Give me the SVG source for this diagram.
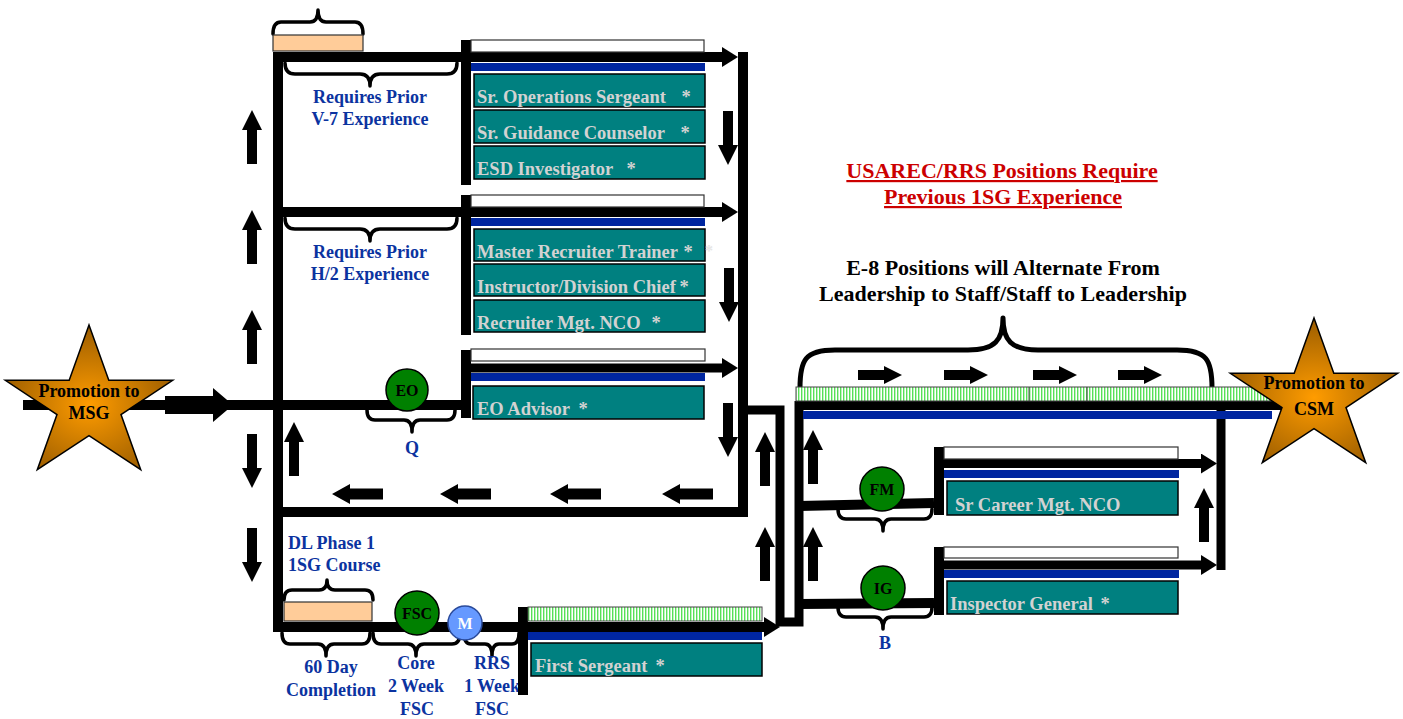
<svg xmlns="http://www.w3.org/2000/svg" width="1403" height="719" viewBox="0 0 1403 719">
<defs>
 <radialGradient id="gold" cx="50%" cy="55%" r="55%">
  <stop offset="0" stop-color="#ff9c00"/>
  <stop offset="1" stop-color="#9a5c00"/>
 </radialGradient>
 <pattern id="stripes" width="3" height="20" patternUnits="userSpaceOnUse">
  <rect width="3" height="20" fill="#ffffff"/>
  <rect width="1.4" height="20" fill="#57e057"/>
 </pattern>
 <marker id="ah" viewBox="0 -10 16 20" refX="0" refY="0" markerWidth="16" markerHeight="20" markerUnits="userSpaceOnUse" orient="auto">
  <path d="M0,-10 L16,0 L0,10 Z" fill="#000"/>
 </marker>
 <path id="au" d="M0,0 L10,20 L5,20 L5,54 L-5,54 L-5,20 L-10,20 Z"/>
 <path id="ad" d="M0,0 L10,-20 L5,-20 L5,-54 L-5,-54 L-5,-20 L-10,-20 Z"/>
 <path id="al" d="M0,0 L18,-10 L18,-5.5 L51,-5.5 L51,5.5 L18,5.5 L18,10 Z"/>
 <path id="ar" d="M0,0 L-18,-9 L-18,-5 L-44,-5 L-44,5 L-18,5 L-18,9 Z"/>
</defs>
<style>
 .ln{fill:none;stroke:#000;stroke-width:10;stroke-linejoin:miter}
 .ln9{fill:none;stroke:#000;stroke-width:9;stroke-linejoin:miter}
 .brace{fill:none;stroke:#000;stroke-width:3.5;stroke-linejoin:round;stroke-linecap:round}
 .bar{fill:#000}
 .white{fill:#fff;stroke:#333;stroke-width:1.2}
 .blue{fill:#0026a0}
 .teal{fill:#008080;stroke:#000;stroke-width:1.5}
 .stripe{fill:url(#stripes);stroke:#444;stroke-width:1}
 .peach{fill:#ffcc99;stroke:#333;stroke-width:1.2}
 .tt{font-family:"Liberation Serif","Times New Roman",serif;font-weight:bold;font-size:18.5px;fill:#d2d2d2}
 .ast{font-family:"Liberation Serif","Times New Roman",serif;font-weight:bold;font-size:18.5px;fill:#d2d2d2;text-anchor:middle}
 .lbl{font-family:"Liberation Serif","Times New Roman",serif;font-weight:bold;font-size:18px;fill:#0b33a0;text-anchor:middle}
 .circ{fill:#008000;stroke:#000;stroke-width:1.5}
 .ct{font-family:"Liberation Serif","Times New Roman",serif;font-weight:bold;font-size:16px;fill:#000;text-anchor:middle}
 .star{fill:url(#gold);stroke:#000;stroke-width:1.5}
 .st{font-family:"Liberation Serif","Times New Roman",serif;font-weight:bold;font-size:18px;fill:#000;text-anchor:middle}
 .title{font-family:"Liberation Serif","Times New Roman",serif;font-weight:bold;font-size:22px;text-anchor:middle}
</style>

<g id="connectors">
 <path class="ln" d="M23,405 H461"/>
 <polygon points="165,396 213,396 213,388 233,405 213,422 213,414 165,414"/>
 <path class="ln" d="M518,627 H278 V57 H722" marker-end="url(#ah)"/>
 <path class="ln" d="M278,212 H722" marker-end="url(#ah)"/>
 <path class="ln9" d="M471,368 H722" marker-end="url(#ah)"/>
 <path class="ln" d="M743,52 V512 H278"/>
 <path class="ln9" d="M743,410 H780 V622 H799 V401"/>
 <path class="ln9" d="M795,405.5 H1282"/>
 <path class="ln9" d="M1221,405 V570"/>
 <path class="ln9" d="M944,463.5 H1201" marker-end="url(#ah)"/>
 <path class="ln9" d="M944,565 H1201" marker-end="url(#ah)"/>
 <path class="ln" d="M799,506 L934,503"/>
 <path class="ln" d="M799,604 L934,603"/>
 <path class="ln" d="M528,627 H764" marker-end="url(#ah)"/>
 <use href="#au" x="252" y="110"/>
 <use href="#au" x="252" y="210"/>
 <use href="#au" x="252" y="310"/>
 <use href="#ad" x="252" y="488"/>
 <use href="#ad" x="252" y="582"/>
 <use href="#au" x="294" y="422"/>
 <use href="#ad" x="728" y="165"/>
 <use href="#ad" x="729" y="322"/>
 <use href="#ad" x="728" y="457"/>
 <use href="#al" x="332" y="494"/>
 <use href="#al" x="440" y="494"/>
 <use href="#al" x="550" y="494"/>
 <use href="#al" x="662" y="494"/>
 <use href="#au" x="765" y="432"/>
 <use href="#au" x="765" y="527"/>
 <use href="#au" x="813" y="430"/>
 <use href="#au" x="813" y="527"/>
 <use href="#au" x="1204" y="488"/>
 <use href="#ar" x="902" y="375"/>
 <use href="#ar" x="988" y="375"/>
 <use href="#ar" x="1077" y="375"/>
 <use href="#ar" x="1162" y="375"/>
</g>

<g id="star-msg">
 <polygon class="star" points="89,325 108.8,380.2 172.7,380.3 121,414.5 140.7,469.7 89,435.6 37.3,469.7 57,414.5 5.3,380.3 69.2,380.2"/>
 <text class="st" x="89" y="397">Promotion to</text>
 <text class="st" x="89" y="419">MSG</text>
</g>

<g id="braces">
 <path class="brace" d="M273,34 Q273,22 281,22 L310,22 Q318,22 318,10 Q318,22 326,22 L355,22 Q363,22 363,34"/>
 <path class="brace" d="M285,63 Q285,74 295,74 L360,74 Q370,74 370,86 Q370,74 380,74 L447,74 Q457,74 457,63"/>
 <path class="brace" d="M285,218 Q285,229 295,229 L360,229 Q370,229 370,241 Q370,229 380,229 L447,229 Q457,229 457,218"/>
 <path class="brace" d="M367,410 Q367,420 375,420 L404,420 Q412,420 412,432 Q412,420 420,420 L447,420 Q455,420 455,410"/>
 <path class="brace" d="M284,600 Q284,590 292,590 L319,590 Q327,590 327,580 Q327,590 335,590 L365,590 Q373,590 373,600"/>
 <path class="brace" d="M282,633 Q282,644 290,644 L318,644 Q326,644 326,656 Q326,644 334,644 L362,644 Q370,644 370,633"/>
 <path class="brace" d="M373,633 Q373,644 381,644 L408,644 Q416,644 416,656 Q416,644 424,644 L452,644 Q460,644 460,633"/>
 <path class="brace" d="M464,633 Q464,644 471,644 L485,644 Q492,644 492,656 Q492,644 499,644 L512,644 Q519,644 519,633"/>
 <path class="brace" d="M838,509 Q838,519 846,519 L875,519 Q883,519 883,531 Q883,519 891,519 L924,519 Q932,519 932,509"/>
 <path class="brace" d="M838,607 Q838,617 846,617 L875,617 Q883,617 883,629 Q883,617 891,617 L924,617 Q932,617 932,607"/>
 <path class="brace" style="stroke-width:5" d="M800,388 C800,360 805,350 835,350 L968,350 C995,350 1003,340 1003,318 C1003,340 1011,350 1038,350 L1177,350 C1207,350 1212,360 1212,388"/>
</g>

<g id="v7-requirement">
 <rect class="peach" x="273" y="35" width="90" height="16"/>
 <text class="lbl" x="370" y="103">Requires Prior</text>
 <text class="lbl" x="370" y="125">V-7 Experience</text>
</g>
<g id="h2-requirement">
 <text class="lbl" x="370" y="258">Requires Prior</text>
 <text class="lbl" x="370" y="280">H/2 Experience</text>
</g>

<g id="stack-v7">
 <rect class="bar" x="461" y="40" width="10" height="145"/>
 <rect class="white" x="471" y="40" width="233" height="12"/>
 <rect class="blue" x="471" y="63" width="234" height="8"/>
 <rect class="teal" x="474" y="74" width="231" height="33"/>
 <text class="tt" x="477" y="103">Sr. Operations Sergeant</text><text class="ast" x="686" y="103">*</text>
 <rect class="teal" x="474" y="110" width="231" height="33"/>
 <text class="tt" x="477" y="139">Sr. Guidance Counselor</text><text class="ast" x="685" y="139">*</text>
 <rect class="teal" x="474" y="146" width="231" height="33"/>
 <text class="tt" x="477" y="175">ESD Investigator</text><text class="ast" x="631" y="175">*</text>
</g>

<g id="stack-h2">
 <rect class="bar" x="461" y="195" width="10" height="140"/>
 <rect class="white" x="471" y="195" width="233" height="12"/>
 <rect class="blue" x="471" y="218" width="234" height="8"/>
 <rect class="teal" x="474" y="229" width="231" height="32"/>
 <text class="tt" x="477" y="258">Master Recruiter Trainer</text><text class="ast" x="688" y="258">*</text>
 <text class="ast" x="709" y="256" style="fill:#e6e6e6;font-size:16px">*</text>
 <rect class="teal" x="474" y="264" width="231" height="32"/>
 <text class="tt" x="477" y="293">Instructor/Division Chief</text><text class="ast" x="684" y="293">*</text>
 <rect class="teal" x="474" y="300" width="231" height="32"/>
 <text class="tt" x="477" y="329">Recruiter Mgt. NCO</text><text class="ast" x="656" y="329">*</text>
</g>

<g id="stack-eo">
 <rect class="bar" x="461" y="350" width="10" height="68"/>
 <rect class="white" x="471" y="349" width="234" height="12"/>
 <rect class="blue" x="471" y="373" width="234" height="8"/>
 <rect class="teal" x="473" y="386" width="231" height="33"/>
 <text class="tt" x="477" y="415">EO Advisor</text><text class="ast" x="583" y="415">*</text>
</g>

<g id="node-eo">
 <circle class="circ" cx="407" cy="390" r="21"/>
 <text class="ct" x="407" y="396">EO</text>
 <text class="lbl" x="412" y="454">Q</text>
</g>

<g id="dl-phase">
 <text class="lbl" x="288" y="549" style="text-anchor:start">DL Phase 1</text>
 <text class="lbl" x="288" y="571" style="text-anchor:start">1SG Course</text>
 <rect class="peach" x="284" y="602" width="88" height="19"/>
 <text class="lbl" x="331" y="673">60 Day</text>
 <text class="lbl" x="331" y="696">Completion</text>
</g>

<g id="node-fsc">
 <circle class="circ" cx="417" cy="613" r="22"/>
 <text class="ct" x="417" y="619">FSC</text>
 <text class="lbl" x="416" y="669">Core</text>
 <text class="lbl" x="416" y="692">2 Week</text>
 <text class="lbl" x="417" y="715">FSC</text>
</g>

<g id="node-m">
 <circle cx="465" cy="623" r="17" fill="#6699ff" stroke="#2a4a9a" stroke-width="1.5"/>
 <text class="ct" x="465" y="629" style="fill:#fff">M</text>
 <text class="lbl" x="492" y="669">RRS</text>
 <text class="lbl" x="492" y="692">1 Week</text>
 <text class="lbl" x="492" y="715">FSC</text>
</g>

<g id="stack-1sg">
 <rect class="bar" x="518" y="607" width="10" height="88"/>
 <rect class="stripe" x="528" y="607" width="234" height="14"/>
 <rect class="blue" x="528" y="632" width="234" height="8"/>
 <rect class="teal" x="531" y="643" width="231" height="33"/>
 <text class="tt" x="535" y="672">First Sergeant</text><text class="ast" x="660" y="672">*</text>
</g>

<g id="e8-track">
 <rect class="stripe" x="796" y="387" width="482" height="14"/>
 <line x1="1029" y1="387" x2="1029" y2="401" stroke="#444" stroke-width="1"/>
 <line x1="1087" y1="387" x2="1087" y2="401" stroke="#444" stroke-width="1"/>
 <rect class="blue" x="803" y="411" width="469" height="8"/>
</g>

<g id="node-fm">
 <circle class="circ" cx="882" cy="489" r="22"/>
 <text class="ct" x="882" y="495">FM</text>
</g>
<g id="node-ig">
 <circle class="circ" cx="883" cy="588" r="22"/>
 <text class="ct" x="883" y="594">IG</text>
 <text class="lbl" x="885" y="649">B</text>
</g>

<g id="stack-fm">
 <rect class="bar" x="934" y="447" width="10" height="68"/>
 <rect class="white" x="944" y="447" width="234" height="12"/>
 <rect class="blue" x="944" y="470" width="235" height="8"/>
 <rect class="teal" x="947" y="481" width="231" height="34"/>
 <text class="tt" x="955" y="511">Sr Career Mgt. NCO</text>
</g>

<g id="stack-ig">
 <rect class="bar" x="934" y="547" width="10" height="68"/>
 <rect class="white" x="944" y="547" width="234" height="11"/>
 <rect class="blue" x="944" y="570" width="235" height="8"/>
 <rect class="teal" x="947" y="581" width="231" height="33"/>
 <text class="tt" x="950" y="610">Inspector General</text><text class="ast" x="1105" y="610">*</text>
</g>

<g id="star-csm">
 <polygon class="star" points="1314,318 1333.8,373.2 1397.7,373.3 1346,407.5 1365.7,462.7 1314,428.6 1262.3,462.7 1282,407.5 1230.3,373.3 1294.2,373.2"/>
 <text class="st" x="1314" y="389">Promotion to</text>
 <text class="st" x="1314" y="415">CSM</text>
</g>

<g id="notes">
 <text class="title" x="1002" y="178" fill="#cc0000" text-decoration="underline">USAREC/RRS Positions Require</text>
 <text class="title" x="1003" y="204" fill="#cc0000" text-decoration="underline">Previous 1SG Experience</text>
 <text class="title" x="1003" y="275" fill="#000">E-8 Positions will Alternate From</text>
 <text class="title" x="1003" y="301" fill="#000">Leadership to Staff/Staff to Leadership</text>
</g>
</svg>
